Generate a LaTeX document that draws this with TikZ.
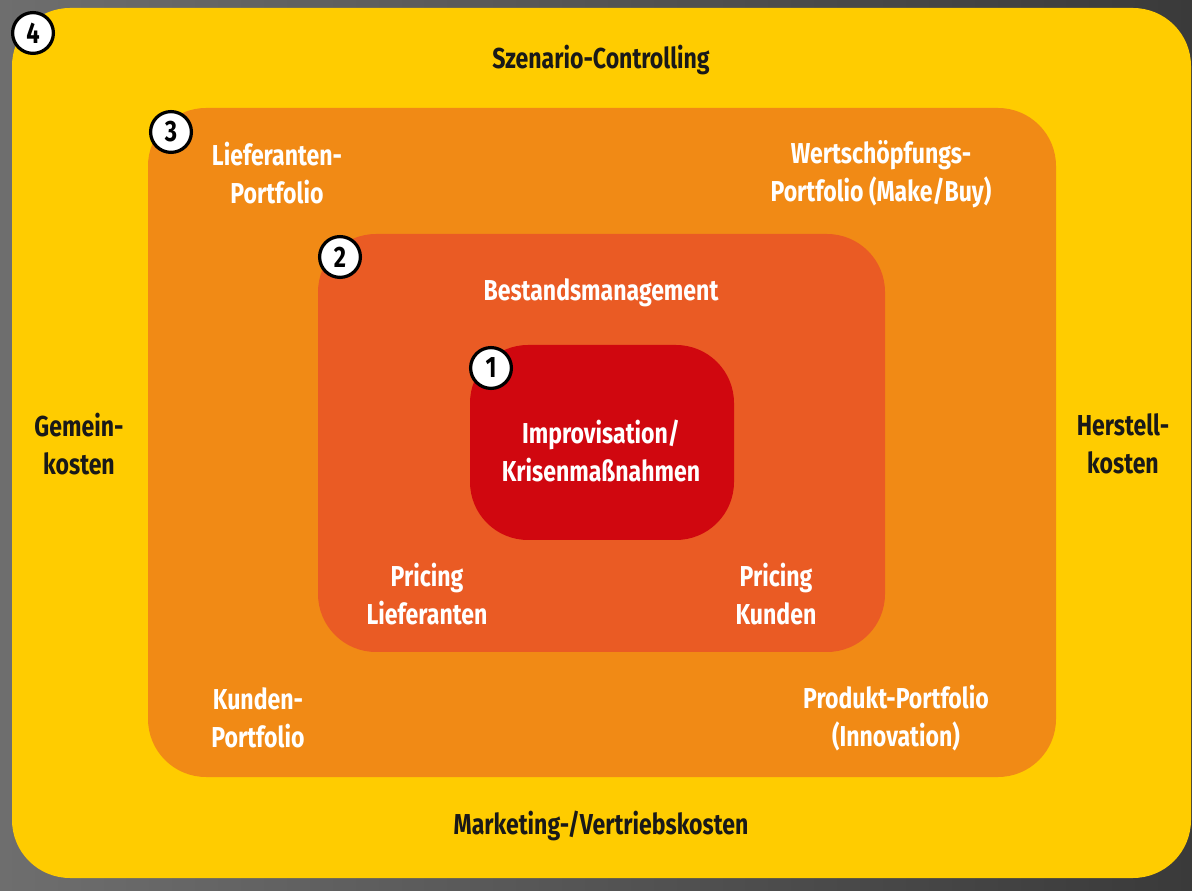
\documentclass[tikz,border=0pt]{standalone}
\usepackage{fontspec}
\setmainfont{Fira Sans}[FakeStretch=0.8]
\usepackage{tikz}

\definecolor{rahmenhell}{HTML}{6E6E6E}
\definecolor{rahmendunkel}{HTML}{3A3A3A}
\definecolor{gelb}{HTML}{FFCC00}
\definecolor{orange}{HTML}{F18A15}
\definecolor{hellrot}{HTML}{EA5B24}
\definecolor{rot}{HTML}{D0070F}

\tikzset{
  ebene/.style={rounded corners=1.45cm},
  txtw/.style={text=white, align=center, font=\fontsize{20.5}{27}\selectfont\bfseries},
  txts/.style={text=black!90, align=center, font=\fontsize{20.5}{27}\selectfont\bfseries},
  nummer/.style={circle, draw=black, fill=white, line width=2.3pt, minimum size=1.02cm,
    inner sep=0pt, font=\fontsize{21}{21}\selectfont\bfseries}
}

\begin{document}
\begin{tikzpicture}[x=0.025cm,y=-0.025cm]
% Rahmen
\shade[left color=rahmenhell, right color=rahmendunkel] (0,0) rectangle (1192,891);
% Ebenen 4 bis 1
\fill[gelb, ebene] (12,8) rectangle (1191,878);
\fill[orange, ebene] (148,108) rectangle (1056,777);
\fill[hellrot, ebene] (318,234) rectangle (885,652);
\fill[rot, ebene] (470,345) rectangle (734,540);
% Nummern
\node[nummer] (n4) at (33,33) {4};
\node[nummer] (n3) at (171,132) {3};
\node[nummer] (n2) at (340,257) {2};
\node[nummer] (n1) at (491,368) {1};
% Ebene 4
\node[txts] (szenario) at (601,60) {Szenario-Controlling};
\node[txts] (gemein) at (79,444) {Gemein-\\kosten};
\node[txts] (herstell) at (1123,444) {Herstell-\\kosten};
\node[txts] (marketing) at (601,826) {Marketing-/Vertriebskosten};
% Ebene 3
\node[txtw] (lieferanten) at (277,173) {Lieferanten-\\Portfolio};
\node[txtw] (wertschoepfung) at (881,174) {Wertschöpfungs-\\Portfolio (Make/Buy)};
\node[txtw] (kunden) at (258,718) {Kunden-\\Portfolio};
\node[txtw] (produkt) at (896,718) {Produkt-Portfolio\\(Innovation)};
% Ebene 2
\node[txtw] (bestand) at (601,293) {Bestandsmanagement};
\node[txtw] (pricingl) at (427,594) {Pricing\\Lieferanten};
\node[txtw] (pricingk) at (776,594) {Pricing\\Kunden};
% Ebene 1
\node[txtw] (krise) at (601,451) {Improvisation/\\Krisenmaßnahmen};
\end{tikzpicture}
\end{document}
